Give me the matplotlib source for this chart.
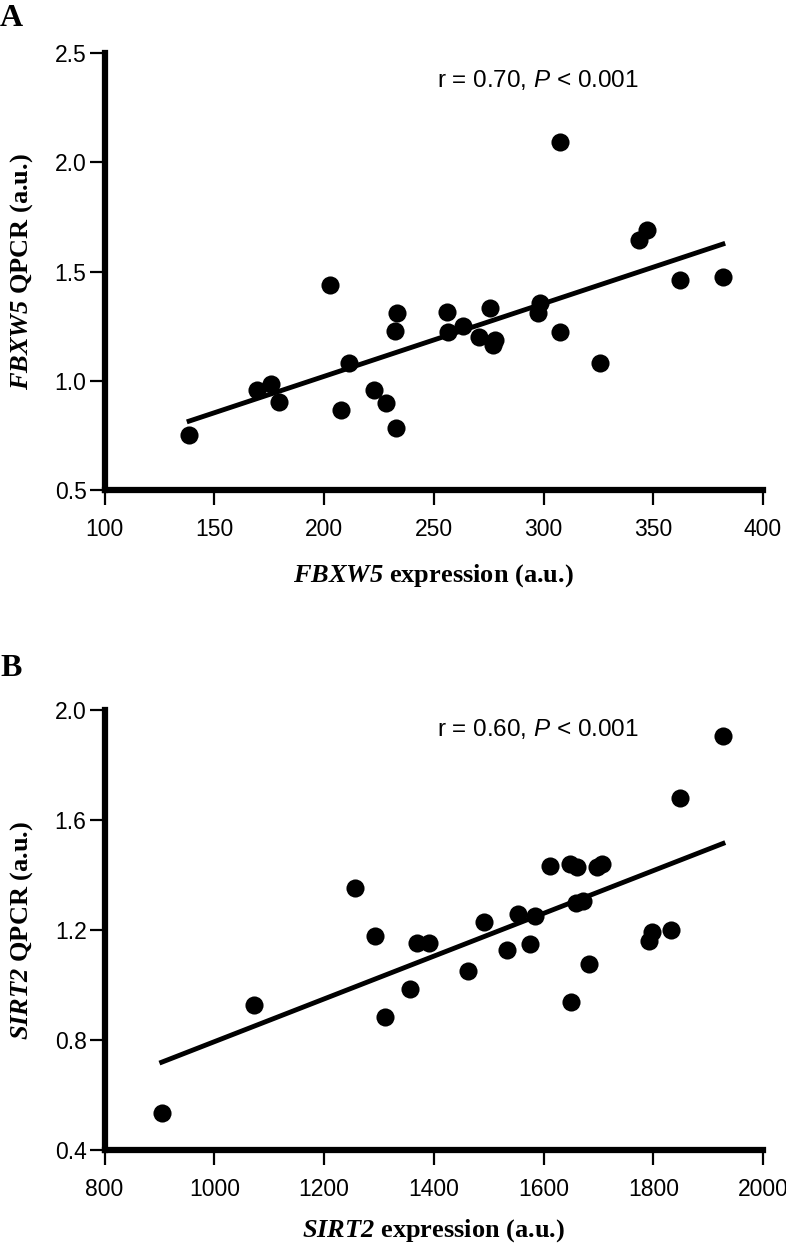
import matplotlib
matplotlib.use("Agg")
import matplotlib.pyplot as plt
import numpy as np

# Panel A : FBXW5
fbxw5_expr = [138.5, 169.5, 175.9, 179.3, 202.7, 207.9, 211.4, 222.8, 228.0, 232.3,
              232.6, 233.1, 255.9, 256.6, 263.2, 270.7, 275.6, 277.9, 277.1, 297.6,
              298.4, 307.4, 307.5, 325.7, 343.3, 347.0, 362.3, 381.7]
fbxw5_qpcr = [0.75, 0.96, 0.985, 0.905, 1.44, 0.865, 1.08, 0.96, 0.90, 1.228,
              0.785, 1.312, 1.317, 1.225, 1.251, 1.202, 1.332, 1.187, 1.164, 1.310,
              1.355, 2.095, 1.225, 1.08, 1.645, 1.69, 1.46, 1.475]

# Panel B : SIRT2
sirt2_expr = [1927, 1849, 1257, 1612, 1648, 1661, 1698, 1706, 1660, 1672,
              1554, 1584, 1491, 1293, 1369, 1392, 1797, 1792, 1833, 1534,
              1575, 1463, 1682, 1357, 1650, 1073, 1311, 904]
sirt2_qpcr = [1.906, 1.680, 1.354, 1.434, 1.44, 1.43, 1.43, 1.44, 1.297, 1.305,
              1.258, 1.251, 1.228, 1.178, 1.154, 1.154, 1.193, 1.159, 1.199, 1.127,
              1.149, 1.05, 1.077, 0.986, 0.937, 0.927, 0.882, 0.535]

# mathtext : noms de genes en gras italique (chiffres compris), P en sans italique
plt.rcParams['mathtext.fontset'] = 'custom'
plt.rcParams['mathtext.it'] = 'Liberation Serif:italic:bold'
plt.rcParams['mathtext.rm'] = 'Liberation Serif:italic:bold'
plt.rcParams['mathtext.sf'] = 'Liberation Sans:italic'


def panel(ax, x, y, xlim, ylim, xticks, yticks, gene, stat_text, stat_pos, xlab_y):
    ax.scatter(x, y, s=170, color='black', zorder=3, clip_on=False, linewidths=0)
    # droite de regression
    slope, intercept = np.polyfit(x, y, 1)
    xs = np.array([min(x), max(x)])
    ax.plot(xs, slope * xs + intercept, color='black', linewidth=3.5, zorder=2)

    ax.set_xlim(xlim)
    ax.set_ylim(ylim)
    ax.set_xticks(xticks)
    ax.set_yticks(yticks)
    ax.set_xticklabels([str(t) for t in xticks], fontsize=16.5, family='Liberation Sans')
    ax.set_yticklabels([f"{t:.1f}" for t in yticks], fontsize=16.5, family='Liberation Sans')
    ax.tick_params(length=11, width=1.6, pad=2)
    ax.tick_params(axis='x', pad=9)
    for s in ['top', 'right']:
        ax.spines[s].set_visible(False)
    for s in ['left', 'bottom']:
        ax.spines[s].set_linewidth(4.5)

    ax.set_xlabel(r'$\mathrm{' + gene + r'}$ expression (a.u.)',
                  fontsize=19, family='Liberation Serif', fontweight='bold')
    ax.set_ylabel(r'$\mathrm{' + gene + r'}$ QPCR (a.u.)',
                  fontsize=19, family='Liberation Serif', fontweight='bold')
    ax.xaxis.set_label_coords(0.5, xlab_y)
    ax.yaxis.set_label_coords(-0.105, 0.5)

    ax.text(stat_pos[0], stat_pos[1], stat_text, fontsize=17.5,
            family='Liberation Sans', ha='left', va='baseline')


fig = plt.figure(figsize=(7.86, 12.43), dpi=100)

axA = fig.add_axes([0.1331, 0.6058, 0.8377, 0.3513])
panel(axA, fbxw5_expr, fbxw5_qpcr, (100, 400), (0.5, 2.5),
      [100, 150, 200, 250, 300, 350, 400], [0.5, 1.0, 1.5, 2.0, 2.5],
      'FBXW5', r'r = 0.70, $\mathsf{P}$ < 0.001', (251.5, 2.346), -0.165)

axB = fig.add_axes([0.1331, 0.0748, 0.8377, 0.354])
panel(axB, sirt2_expr, sirt2_qpcr, (800, 2000), (0.4, 2.0),
      [800, 1000, 1200, 1400, 1600, 1800, 2000], [0.4, 0.8, 1.2, 1.6, 2.0],
      'SIRT2', r'r = 0.60, $\mathsf{P}$ < 0.001', (1405.8, 1.905), -0.152)

fig.text(0.0, 1 - 4 / 1243, 'A', fontsize=23, family='Liberation Serif',
         fontweight='bold', ha='left', va='top')
fig.text(0.0, 1 - 654 / 1243, 'B', fontsize=23, family='Liberation Serif',
         fontweight='bold', ha='left', va='top')

fig.savefig('out.png', dpi=100)
